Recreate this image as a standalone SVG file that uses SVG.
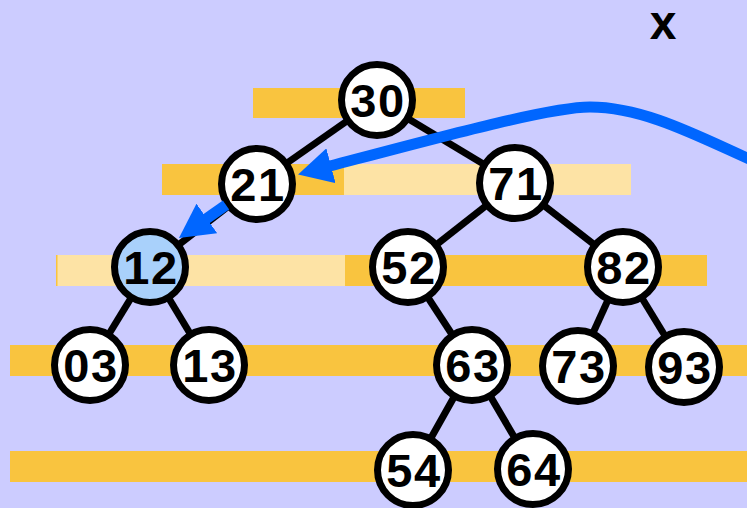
<svg xmlns="http://www.w3.org/2000/svg" width="747" height="508" viewBox="0 0 747 508">
<style>
.bar{fill:#F9C43F}
.lbar{fill:#FDE3A5}
.edge{stroke:#000;stroke-width:7;fill:none}
.node circle{fill:#fff;stroke:#000;stroke-width:7}
.node text{font-family:"Liberation Sans",Arial,sans-serif;font-weight:bold;font-size:47px;letter-spacing:1.5px;text-anchor:middle;fill:#000}
.arrow{stroke:#0066FF;stroke-width:11;fill:none;marker-end:url(#ah)}
</style>
<defs>
<marker id="ah" markerUnits="userSpaceOnUse" viewBox="0 0 34 36" refX="1" refY="18" markerWidth="34" markerHeight="36" orient="auto">
<path d="M0,0 L34,18 L0,36 Z" fill="#0066FF"/>
</marker>
</defs>
<rect width="747" height="508" fill="#CCCCFF"/>
<g id="bars">
<rect class="bar" x="253" y="88" width="212" height="30"/>
<rect class="bar" x="162" y="164" width="182" height="31"/>
<rect class="lbar" x="344" y="164" width="287" height="31"/>
<rect class="lbar" x="56" y="255" width="289" height="31"/>
<rect class="bar" x="56" y="255" width="1.5" height="31"/>
<rect class="bar" x="345" y="255" width="362" height="31"/>
<rect class="bar" x="10" y="345" width="737" height="31"/>
<rect class="bar" x="10" y="451" width="737" height="31"/>
</g>
<g id="edges">
<line class="edge" x1="377" y1="100" x2="257" y2="184"/>
<line class="edge" x1="377" y1="100" x2="515" y2="183"/>
<line class="edge" x1="257" y1="184" x2="150" y2="267"/>
<line class="edge" x1="515" y1="183" x2="408" y2="267"/>
<line class="edge" x1="515" y1="183" x2="623" y2="267"/>
<line class="edge" x1="150" y1="267" x2="90" y2="365"/>
<line class="edge" x1="150" y1="267" x2="209" y2="365"/>
<line class="edge" x1="408" y1="267" x2="472" y2="365"/>
<line class="edge" x1="623" y1="267" x2="578" y2="366"/>
<line class="edge" x1="623" y1="267" x2="684" y2="367"/>
<line class="edge" x1="472" y1="365" x2="413" y2="470"/>
<line class="edge" x1="472" y1="365" x2="533" y2="469"/>
</g>
<g id="n30" class="node"><circle cx="377" cy="100" r="35.5"/><text x="378" y="117">30</text></g>
<g id="n21" class="node"><circle cx="257" cy="184" r="35.5"/><text x="258" y="201">21</text></g>
<g id="n71" class="node"><circle cx="515" cy="183" r="35.5"/><text x="516" y="200">71</text></g>
<g id="n12" class="node"><circle cx="150" cy="267" r="35.5" style="fill:#A9D1FB"/><text x="151" y="284">12</text></g>
<g id="n52" class="node"><circle cx="408" cy="267" r="35.5"/><text x="409" y="284">52</text></g>
<g id="n82" class="node"><circle cx="623" cy="267" r="35.5"/><text x="624" y="284">82</text></g>
<g id="n03" class="node"><circle cx="90" cy="365" r="35.5"/><text x="91" y="382">03</text></g>
<g id="n13" class="node"><circle cx="209" cy="365" r="35.5"/><text x="210" y="382">13</text></g>
<g id="n63" class="node"><circle cx="472" cy="365" r="35.5"/><text x="473" y="382">63</text></g>
<g id="n73" class="node"><circle cx="578" cy="366" r="35.5"/><text x="579" y="383">73</text></g>
<g id="n93" class="node"><circle cx="684" cy="367" r="35.5"/><text x="685" y="384">93</text></g>
<g id="n54" class="node"><circle cx="413" cy="470" r="35.5"/><text x="414" y="487">54</text></g>
<g id="n64" class="node"><circle cx="533" cy="469" r="35.5"/><text x="534" y="486">64</text></g>
<g id="arrows">
<path class="arrow" d="M770,168 C710,143 650,107 590,107 C550,107 440,137 330,166"/>
<path class="arrow" d="M226,205 L206,219"/>
</g>
<text x="663" y="39" style="font-family:'Liberation Sans',Arial,sans-serif;font-weight:bold;font-size:48px;text-anchor:middle">x</text>
</svg>
